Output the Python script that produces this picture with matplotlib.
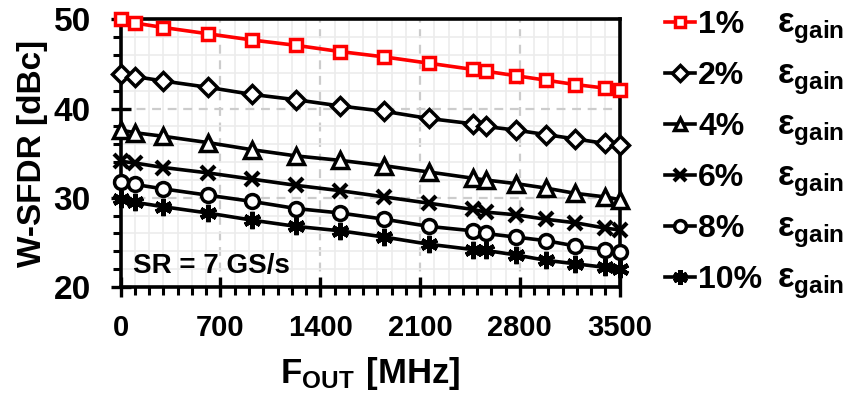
"""W-SFDR versus output frequency for several gain mismatch levels."""

import matplotlib
matplotlib.use("Agg")
import matplotlib.pyplot as plt
from matplotlib import font_manager as fm
from matplotlib.ticker import MultipleLocator, FixedLocator

# ---- data ----
f_out = [0, 100, 300, 610, 920, 1230, 1540, 1850, 2160, 2470, 2560,
         2770, 2980, 3190, 3400, 3500]

sfdr_1 = [50.0, 49.6, 49.1, 48.4, 47.7, 47.1, 46.4, 45.8, 45.1, 44.4, 44.2,
          43.7, 43.2, 42.7, 42.3, 42.1]
sfdr_2 = [43.9, 43.6, 43.1, 42.4, 41.6, 41.0, 40.3, 39.7, 38.9, 38.3, 38.0,
          37.6, 37.1, 36.6, 36.1, 35.9]
sfdr_4 = [37.6, 37.3, 36.9, 36.2, 35.4, 34.7, 34.2, 33.6, 32.9, 32.2, 32.0,
          31.6, 31.1, 30.5, 30.1, 29.8]
sfdr_6 = [34.1, 33.9, 33.4, 32.8, 32.1, 31.4, 30.8, 30.1, 29.4, 28.7, 28.4,
          28.1, 27.6, 27.2, 26.6, 26.4]
sfdr_8 = [31.8, 31.5, 31.0, 30.3, 29.6, 28.8, 28.3, 27.6, 26.8, 26.3, 26.0,
          25.6, 25.2, 24.6, 24.2, 23.9]
sfdr_10 = [29.9, 29.5, 29.0, 28.3, 27.5, 26.8, 26.3, 25.6, 24.8, 24.2, 24.1,
           23.6, 23.0, 22.6, 22.2, 22.0]

labels = ["1%", "2%", "4%", "6%", "8%", "10%"]
x_ticks = [0, 700, 1400, 2100, 2800, 3500]
y_ticks = [20, 30, 40, 50]

# ---- fonts ----
names = {f.name for f in fm.fontManager.ttflist}
NARROW = "Liberation Sans Narrow" if "Liberation Sans Narrow" in names else None
plt.rcParams["font.family"] = ["Liberation Sans", "DejaVu Sans"]
plt.rcParams["font.weight"] = "bold"
plt.rcParams["mathtext.fontset"] = "custom"
plt.rcParams["mathtext.bf"] = "Liberation Sans:bold"
plt.rcParams["mathtext.sf"] = (NARROW or "Liberation Sans") + ":bold"
plt.rcParams["mathtext.rm"] = "Liberation Sans:bold"

# narrow font is not always there; shrink regular text instead
xtick_size = 25 if NARROW else 21
sr_size = 22.5 if NARROW else 20
narrow_family = NARROW or "Liberation Sans"

fig = plt.figure(figsize=(8.5, 4.0), dpi=100)
ax = fig.add_axes([0.142, 0.2825, 0.587, 0.6688])

series = [sfdr_1, sfdr_2, sfdr_4, sfdr_6, sfdr_8, sfdr_10]
styles = [
    dict(color="#ff0000", marker="s", ms=9, mew=2.5),
    dict(color="black", marker="D", ms=9, mew=2.5),
    dict(color="black", marker="^", ms=11, mew=2.5),
    dict(color="black", marker="x", ms=10.5, mew=3.0),
    dict(color="black", marker="o", ms=10, mew=2.5),
    dict(color="black", marker=(6, 2, 0), ms=12.5, mew=3.2),
]

lines = []
for vals, lab, st in zip(series, labels, styles):
    ln, = ax.plot(f_out, vals, lw=2.6, mfc="white", mec=st["color"],
                  label=lab, clip_on=False, zorder=3, **st)
    lines.append(ln)

ax.set_xlim(0, 3500)
ax.set_ylim(20, 50)
ax.xaxis.set_major_locator(FixedLocator(x_ticks))
ax.yaxis.set_major_locator(FixedLocator(y_ticks))
ax.xaxis.set_minor_locator(MultipleLocator(100))
ax.yaxis.set_minor_locator(MultipleLocator(2))

ax.set_axisbelow(True)
ax.grid(which="minor", color="#ececec", lw=1.2, ls="-")
ax.grid(which="major", color="#cccccc", lw=1.6, ls=(0, (4, 3)))

for sp in ax.spines.values():
    sp.set_linewidth(2.6)

ax.tick_params(axis="both", which="major", direction="inout", length=15,
               width=2.4)
ax.tick_params(axis="both", which="minor", direction="out", length=6,
               width=2.2)
ax.tick_params(axis="y", which="major", pad=14, labelsize=24)
ax.tick_params(axis="x", which="major", pad=12, labelsize=xtick_size)
for t in ax.get_xticklabels():
    t.set_fontfamily(narrow_family)
    t.set_fontweight("bold")

ax.set_ylabel("W-SFDR [dBc]", fontsize=24, fontweight="bold", labelpad=4)
ax.set_xlabel(r"$\mathsf{F_{OUT}\ [MHz]}$", fontsize=25, labelpad=9)

ax.text(0.024, 0.051, "SR = 7 GS/s", transform=ax.transAxes,
        fontsize=sr_size, fontweight="bold", family=narrow_family,
        va="baseline")

leg = ax.legend(handles=lines, loc="center left",
                bbox_to_anchor=(0.782, 0.619), bbox_transform=fig.transFigure,
                frameon=False, fontsize=23, handlelength=0.95,
                handletextpad=0.1, labelspacing=0.66, borderpad=0,
                borderaxespad=0, markerscale=0.85)

# epsilon_gain column aligned to each legend row baseline
fig.canvas.draw()
for t in leg.get_texts():
    y_disp = t.get_transform().transform((0, 0))[1]
    y_fig = fig.transFigure.inverted().transform((0, y_disp))[1]
    fig.text(777 / 850, y_fig, r"$\mathbf{ε}_{\mathbf{gain}}$", fontsize=25,
             va="baseline", ha="left")

fig.savefig("out.png", dpi=100)
